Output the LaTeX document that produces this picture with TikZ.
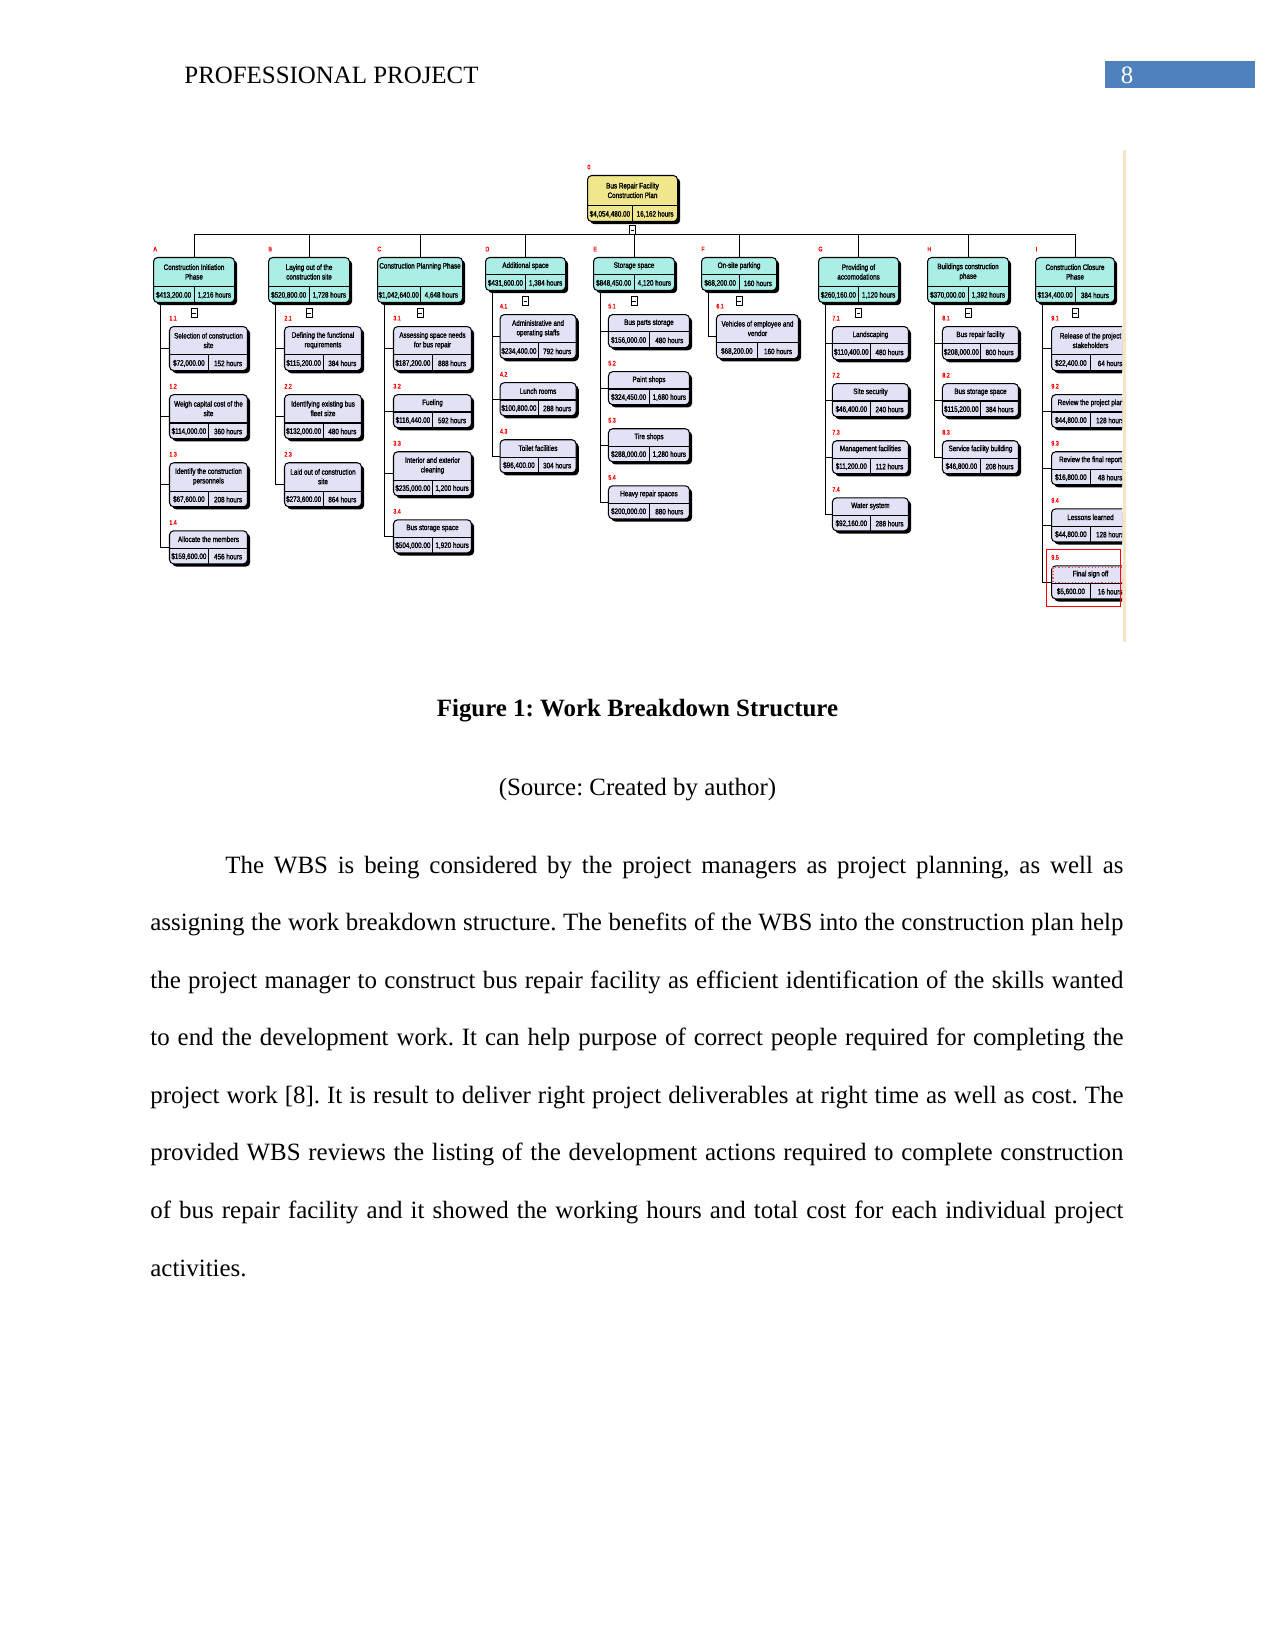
\documentclass[tikz,border=0pt]{standalone}
\usepackage{fontspec}
\setmainfont{Liberation Serif}
\newfontfamily\boxfont[FakeStretch=0.8, FakeBold=1.5]{Liberation Sans}
\usetikzlibrary{positioning,shadows}
\frenchspacing

\definecolor{rootfill}{RGB}{240,230,140}
\definecolor{phasefill}{RGB}{170,238,230}
\definecolor{taskfill}{RGB}{226,226,246}
\definecolor{headblue}{RGB}{79,129,189}
\definecolor{edgetan}{RGB}{246,230,196}

% one pixel of the page
\newcommand\pxu{0.4818pt}

\tikzset{
  wbsbase/.style={draw, line width=0.5pt, rounded corners=2pt, inner sep=0pt,
    drop shadow={shadow xshift=1.3pt, shadow yshift=-1.3pt, fill=black, opacity=1}},
  rootbox/.style={wbsbase, fill=rootfill},
  phasebox/.style={wbsbase, fill=phasefill},
  taskbox/.style={wbsbase, fill=taskfill},
  boxtext/.style={inner sep=0pt, align=center, font=\boxfont\fontsize{3.8}{4.6}\selectfont},
  wbsnum/.style={inner sep=0pt, text=red, font=\boxfont\fontsize{3.2}{3.5}\selectfont},
  minusbox/.style={draw, fill=white, line width=0.4pt, inner sep=0pt, minimum width=2.9pt, minimum height=4.3pt},
  link/.style={line width=0.5pt},
  pagetext/.style={inner sep=0pt, font=\fontsize{12}{14}\selectfont}
}

% #1 style, #2 name, #3 placement, #4 width, #5 title height, #6 number, #7 title, #8 cost, #9 hours
\newcommand\wbsbox[9]{%
  \node[#1, #3, minimum width=#4*\pxu, minimum height=(#5+16)*\pxu] (#2) {};
  \node[boxtext, anchor=north, minimum height=#5*\pxu] (#2-t) at (#2.north) {#7};
  \node[boxtext, anchor=north west, minimum width=#4*\pxu/2, minimum height=16*\pxu] (#2-c) at (#2-t.south -| #2.west) {#8};
  \node[boxtext, anchor=north east, minimum width=#4*\pxu/2, minimum height=16*\pxu] (#2-h) at (#2-t.south -| #2.east) {#9};
  \draw[link] (#2.west |- #2-t.south) -- (#2.east |- #2-t.south);
  \draw[link] (#2-c.north east) -- (#2-c.south east);
  \node[wbsnum, anchor=south west] (#2-n) at ([yshift=2.5pt]#2.north west) {#6};
}

\begin{document}
\begin{tikzpicture}[x=0.4818pt, y=-0.4818pt]
  \useasboundingbox[fill=white] (0,0) rectangle (1275,1651);

  % header
  \node[pagetext, anchor=base west] (header) at (184,84) {PROFESSIONAL PROJECT};
  \fill[headblue] (1105,61) rectangle (1255,88);
  \node[pagetext, anchor=base, text=white] (pageno) at (1127,84) {8};

  \begin{scope}
  \clip (0,0) rectangle (1122,1651);

  % root and phases
  \wbsbox{rootbox}{root}{at={(587,175)}, anchor=north west}{90}{30}{0}{Bus Repair Facility\\Construction Plan}{\$4,054,480.00}{16,162 hours}
  \node[minusbox, below=1.5pt of root.south] (root-m) {\rule{1.5pt}{0.35pt}};

  \wbsbox{phasebox}{A}{at={(153,257)}, anchor=north west}{81}{29}{A}{Construction Initiation\\Phase}{\$413,200.00}{1,216 hours}
  \wbsbox{phasebox}{B}{at={(268,257)}, anchor=north west}{81}{29}{B}{Laying out of the\\construction site}{\$520,800.00}{1,728 hours}
  \wbsbox{phasebox}{C}{at={(377,257)}, anchor=north west}{85}{29}{C}{Construction Planning Phase\\\strut}{\$1,042,640.00}{4,648 hours}
  \wbsbox{phasebox}{D}{at={(485,257)}, anchor=north west}{80}{17}{D}{Additional space}{\$431,600.00}{1,384 hours}
  \wbsbox{phasebox}{E}{at={(593,257)}, anchor=north west}{81}{17}{E}{Storage space}{\$848,450.00}{4,120 hours}
  \wbsbox{phasebox}{F}{at={(701,257)}, anchor=north west}{75}{17}{F}{On-site parking}{\$68,200.00}{160 hours}
  \wbsbox{phasebox}{G}{at={(818,257)}, anchor=north west}{80}{29}{G}{Providing of\\accomodations}{\$260,160.00}{1,120 hours}
  \wbsbox{phasebox}{H}{at={(927,257)}, anchor=north west}{81}{29}{H}{Buildings construction\\phase}{\$370,000.00}{1,392 hours}
  \wbsbox{phasebox}{I}{at={(1035,257)}, anchor=north west}{79}{29}{I}{Construction Closure\\Phase}{\$134,400.00}{384 hours}

  \foreach \n in {A,B,C,D,E,F,G,H,I} {
    \draw[link] (\n.north) |- (root-m.south);
    \node[minusbox, below=2.4pt of \n.south] (\n-m) {\rule{1.5pt}{0.35pt}};
  }

  % tasks
  \wbsbox{taskbox}{a1}{below=11.1pt of A.south west, anchor=north west, xshift=7.7pt}{78}{28}{1.1}{Selection of construction\\site}{\$72,000.00}{152 hours}
  \wbsbox{taskbox}{a2}{below=11.1pt of a1.south west, anchor=north west}{78}{28}{1.2}{Weigh capital cost of the\\site}{\$114,000.00}{360 hours}
  \wbsbox{taskbox}{a3}{below=11.1pt of a2.south west, anchor=north west}{78}{28}{1.3}{Identify the construction\\personnels}{\$67,600.00}{208 hours}
  \wbsbox{taskbox}{a4}{below=11.1pt of a3.south west, anchor=north west}{78}{17}{1.4}{Allocate the members}{\$159,600.00}{456 hours}

  \wbsbox{taskbox}{b1}{below=11.1pt of B.south west, anchor=north west, xshift=7.7pt}{77}{28}{2.1}{Defining the functional\\requirements}{\$115,200.00}{384 hours}
  \wbsbox{taskbox}{b2}{below=11.1pt of b1.south west, anchor=north west}{77}{28}{2.2}{Identifying existing bus\\fleet size}{\$132,000.00}{480 hours}
  \wbsbox{taskbox}{b3}{below=11.1pt of b2.south west, anchor=north west}{77}{28}{2.3}{Laid out of construction\\site}{\$273,600.00}{864 hours}

  \wbsbox{taskbox}{c1}{below=11.1pt of C.south west, anchor=north west, xshift=7.7pt}{78}{28}{3.1}{Assessing space needs\\for bus repair}{\$187,200.00}{888 hours}
  \wbsbox{taskbox}{c2}{below=11.1pt of c1.south west, anchor=north west}{78}{17}{3.2}{Fueling}{\$116,440.00}{592 hours}
  \wbsbox{taskbox}{c3}{below=11.1pt of c2.south west, anchor=north west}{78}{28}{3.3}{Interior and exterior\\cleaning}{\$235,000.00}{1,200 hours}
  \wbsbox{taskbox}{c4}{below=11.1pt of c3.south west, anchor=north west}{78}{17}{3.4}{Bus storage space}{\$504,000.00}{1,920 hours}

  \wbsbox{taskbox}{d1}{below=11.1pt of D.south west, anchor=north west, xshift=7pt}{76}{28}{4.1}{Administrative and\\operating staffs}{\$234,400.00}{792 hours}
  \wbsbox{taskbox}{d2}{below=11.1pt of d1.south west, anchor=north west}{76}{17}{4.2}{Lunch rooms}{\$100,800.00}{288 hours}
  \wbsbox{taskbox}{d3}{below=11.1pt of d2.south west, anchor=north west}{76}{17}{4.3}{Toilet facilities}{\$96,400.00}{304 hours}

  \wbsbox{taskbox}{e1}{below=11.1pt of E.south west, anchor=north west, xshift=7.2pt}{81}{17}{5.1}{Bus parts storage}{\$156,000.00}{480 hours}
  \wbsbox{taskbox}{e2}{below=11.1pt of e1.south west, anchor=north west}{81}{17}{5.2}{Paint shops}{\$324,450.00}{1,680 hours}
  \wbsbox{taskbox}{e3}{below=11.1pt of e2.south west, anchor=north west}{81}{17}{5.3}{Tire shops}{\$288,000.00}{1,280 hours}
  \wbsbox{taskbox}{e4}{below=11.1pt of e3.south west, anchor=north west}{81}{17}{5.4}{Heavy repair spaces}{\$200,000.00}{880 hours}

  \wbsbox{taskbox}{f1}{below=11.1pt of F.south west, anchor=north west, xshift=7.2pt}{82}{28}{6.1}{Vehicles of employee and\\vendor}{\$68,200.00}{160 hours}

  \wbsbox{taskbox}{g1}{below=11.1pt of G.south west, anchor=north west, xshift=6.7pt}{76}{17}{7.1}{Landscaping}{\$110,400.00}{480 hours}
  \wbsbox{taskbox}{g2}{below=11.1pt of g1.south west, anchor=north west}{76}{17}{7.2}{Site security}{\$46,400.00}{240 hours}
  \wbsbox{taskbox}{g3}{below=11.1pt of g2.south west, anchor=north west}{76}{17}{7.3}{Management facilities}{\$11,200.00}{112 hours}
  \wbsbox{taskbox}{g4}{below=11.1pt of g3.south west, anchor=north west}{76}{17}{7.4}{Water system}{\$92,160.00}{288 hours}

  \wbsbox{taskbox}{h1}{below=11.1pt of H.south west, anchor=north west, xshift=7.2pt}{76}{17}{8.1}{Bus repair facility}{\$208,000.00}{800 hours}
  \wbsbox{taskbox}{h2}{below=11.1pt of h1.south west, anchor=north west}{76}{17}{8.2}{Bus storage space}{\$115,200.00}{384 hours}
  \wbsbox{taskbox}{h3}{below=11.1pt of h2.south west, anchor=north west}{76}{17}{8.3}{Service facility building}{\$46,800.00}{208 hours}

  \wbsbox{taskbox}{i1}{below=11.1pt of I.south west, anchor=north west, xshift=7.7pt}{78}{28}{9.1}{Release of the project\\stakeholders}{\$22,400.00}{64 hours}
  \wbsbox{taskbox}{i2}{below=11.1pt of i1.south west, anchor=north west}{78}{17}{9.2}{Review the project plan}{\$44,800.00}{128 hours}
  \wbsbox{taskbox}{i3}{below=11.1pt of i2.south west, anchor=north west}{78}{17}{9.3}{Review the final report}{\$16,800.00}{48 hours}
  \wbsbox{taskbox}{i4}{below=11.1pt of i3.south west, anchor=north west}{78}{17}{9.4}{Lessons learned}{\$44,800.00}{128 hours}
  \wbsbox{taskbox}{i5}{below=11.1pt of i4.south west, anchor=north west}{78}{17}{9.5}{Final sign off}{\$5,600.00}{16 hours}

  % selected task
  \coordinate (i5-tr) at (i5-t.south -| i5.east);
  \coordinate (cutedge) at (1120,600);
  \draw[red!70, densely dotted, line width=0.6pt] ([shift={(1pt,-1pt)}]i5.north west) rectangle ([shift={(-1pt,0.5pt)}]i5-tr);
  \draw[red, line width=0.5pt] ([shift={(-2pt,2.5pt)}]i5-n.north west) rectangle ([yshift=-3.5pt]i5.south -| cutedge);

  % branches
  \foreach \kid in {a1,a2,a3,a4} \draw[link] ([xshift=3.8pt]A.south west) |- (\kid.west);
  \foreach \kid in {b1,b2,b3} \draw[link] ([xshift=3.8pt]B.south west) |- (\kid.west);
  \foreach \kid in {c1,c2,c3,c4} \draw[link] ([xshift=3.8pt]C.south west) |- (\kid.west);
  \foreach \kid in {d1,d2,d3} \draw[link] ([xshift=3.5pt]D.south west) |- (\kid.west);
  \foreach \kid in {e1,e2,e3,e4} \draw[link] ([xshift=3.5pt]E.south west) |- (\kid.west);
  \foreach \kid in {f1} \draw[link] ([xshift=3.8pt]F.south west) |- (\kid.west);
  \foreach \kid in {g1,g2,g3,g4} \draw[link] ([xshift=3.5pt]G.south west) |- (\kid.west);
  \foreach \kid in {h1,h2,h3} \draw[link] ([xshift=3.8pt]H.south west) |- (\kid.west);
  \foreach \kid in {i1,i2,i3,i4,i5} \draw[link] ([xshift=3.8pt]I.south west) |- (\kid.west);
  \end{scope}

  \fill[edgetan] (1123,150) rectangle (1126,642);

  % caption and text
  \node[pagetext, anchor=base, font=\bfseries\fontsize{12}{14}\selectfont] (caption) at (637.5,716) {Figure 1: Work Breakdown Structure};
  \node[pagetext, anchor=base] (source) at (637.5,795) {(Source: Created by author)};
  \node[inner sep=0pt, anchor=base west, text width=6.487in, align=justify, font=\fontsize{12}{27.75}\selectfont] (body) at (150,873)
    {\hyphenpenalty=10000\hspace*{0.5in}The WBS is being considered by the project managers as project planning, as well as\linebreak
     assigning the work breakdown structure. The benefits of the WBS into the construction plan help\linebreak
     the project manager to construct bus repair facility as efficient identification of the skills wanted\linebreak
     to end the development work. It can help purpose of correct people required for completing the\linebreak
     project work [8]. It is result to deliver right project deliverables at right time as well as cost. The\linebreak
     provided WBS reviews the listing of the development actions required to complete construction\linebreak
     of bus repair facility and it showed the working hours and total cost for each individual project\linebreak
     activities.};
\end{tikzpicture}
\end{document}
